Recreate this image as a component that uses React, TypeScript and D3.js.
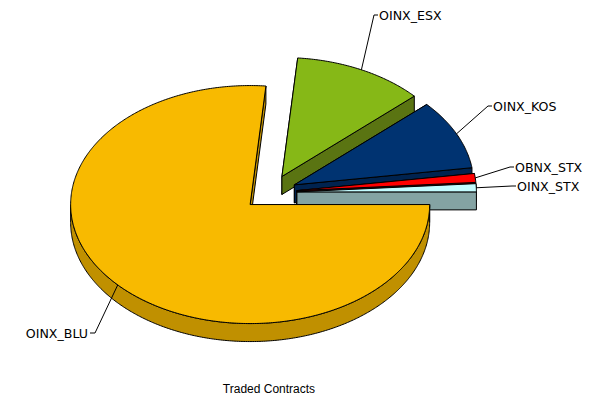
import React from "react";
import * as d3 from "d3";

const categories = ["OINX_BLU", "OINX_ESX", "OINX_KOS", "OBNX_STX", "OINX_STX"];
const contracts = [76.4, 11.8, 9.5, 1.2, 1.1];
const topColors = ["#F8BA00", "#86B817", "#003371", "#FF0000", "#C4FCFF"];
const wallColors = ["#C09000", "#5A7412", "#00234F", "#A00000", "#84A3A3"];
const labelAnchors = [
  { x: 88, y: 333, anchor: "end" },
  { x: 379, y: 15, anchor: "start" },
  { x: 493, y: 106, anchor: "start" },
  { x: 515, y: 167, anchor: "start" },
  { x: 517, y: 186, anchor: "start" },
];
const caption = "Traded Contracts";

const W = 602, H = 399;
const CX = 270, CY = 192.5, RX = 179.5, RY = 119, DEPTH = 18, EXPLODE = 0.15;

const sx = d3.scaleLinear().domain([-1, 1]).range([-RX, RX]);
const sy = d3.scaleLinear().domain([-1, 1]).range([-RY, RY]);

const pie = d3.pie<number>().sort(null).startAngle(0).endAngle(2 * Math.PI);
const slices = pie(contracts);

function arcPts(a0: number, a1: number, ox: number, oy: number) {
  const n = Math.max(2, Math.ceil(Math.abs(a1 - a0) / 0.01));
  return d3.range(n + 1).map((i) => {
    const a = a0 + ((a1 - a0) * i) / n;
    return [ox + sx(Math.cos(a)), oy + sy(Math.sin(a))] as [number, number];
  });
}
const poly = (p: [number, number][]) =>
  "M" + p.map((q) => q[0].toFixed(2) + "," + q[1].toFixed(2)).join("L") + "Z";

export default function App() {
  const parts = slices.map((s, i) => {
    const mid = (s.startAngle + s.endAngle) / 2;
    const ox = CX + EXPLODE * sx(Math.cos(mid));
    const oy = CY + EXPLODE * sy(Math.sin(mid));
    const arc = arcPts(s.startAngle, s.endAngle, ox, oy);
    const first = arc[0];
    const last = arc[arc.length - 1];
    const d = (p: [number, number]) => [p[0], p[1] + DEPTH] as [number, number];
    const rimFrontA = Math.max(s.startAngle, 0);
    const rimFrontB = Math.min(s.endAngle, Math.PI);
    const rim = rimFrontB > rimFrontA ? arcPts(rimFrontA, rimFrontB, ox, oy) : [];
    const wallA = poly([[ox, oy], first, d(first), [ox, oy + DEPTH]]);
    const wallB = poly([[ox, oy], last, d(last), [ox, oy + DEPTH]]);
    const wallRim = rim.length ? poly([...rim, ...rim.slice().reverse().map(d)]) : "";
    const top = poly([[ox, oy], ...arc]);
    const pm = [ox + sx(Math.cos(mid)), oy + sy(Math.sin(mid))];
    return { i, wallA, wallB, wallRim, top, pm };
  });
  const drawOrder = [1, 2, 3, 4, 0];
  return (
    <svg width={W} height={H} viewBox={`0 0 ${W} ${H}`} style={{ position: "absolute", left: 0, top: 0, background: "#fff" }}>
      {drawOrder.map((k) => {
        const p = parts[k];
        return (
          <g key={k} stroke="#000" strokeWidth={1} strokeLinejoin="round">
            <path d={p.wallA} fill={wallColors[k]} />
            <path d={p.wallB} fill={wallColors[k]} />
            {p.wallRim && <path d={p.wallRim} fill={wallColors[k]} />}
            <path d={p.top} fill={topColors[k]} />
          </g>
        );
      })}
      {parts.map((p, k) => {
        const a = labelAnchors[k];
        const dir = a.anchor === "end" ? 7 : -5;
        return (
          <g key={k}>
            <polyline
              points={`${p.pm[0]},${p.pm[1]} ${a.x + dir},${a.y} ${a.x + (dir > 0 ? 2 : -1)},${a.y}`}
              fill="none"
              stroke="#000"
              strokeWidth={1}
            />
            <text x={a.x} y={a.y + 4.5} textAnchor={a.anchor} fontFamily="DejaVu Sans" fontSize={12.6} fill="#000">
              {categories[k]}
            </text>
          </g>
        );
      })}
      <text x={269} y={393} textAnchor="middle" fontFamily="Liberation Sans" fontSize={12} fill="#000">
        {caption}
      </text>
    </svg>
  );
}
